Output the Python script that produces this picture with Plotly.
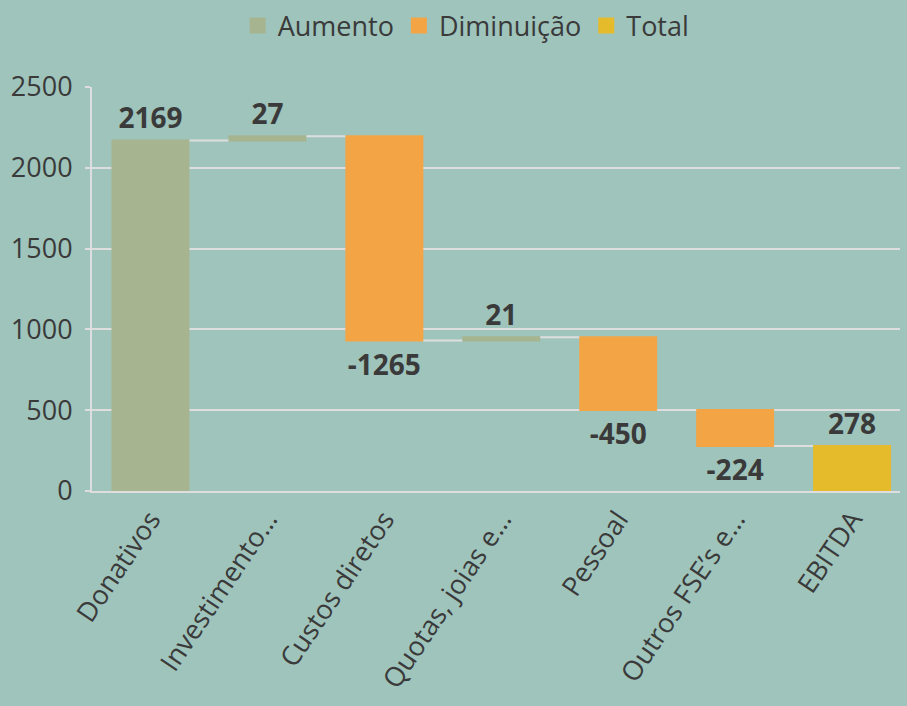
import plotly.graph_objects as go

categories = ["Donativos", "Investimento…", "Custos diretos", "Quotas, joias e…",
              "Pessoal", "Outros FSE’s e…", "EBITDA"]
values = [2169, 27, -1265, 21, -450, -224, 278]
measures = ["relative", "relative", "relative", "relative", "relative", "relative", "total"]
labels = ["2169", "27", "-1265", "21", "-450", "-224", "278"]
legend_names = ["Aumento", "Diminuição", "Total"]
y_ticks = [0, 500, 1000, 1500, 2000, 2500]

C_UP = "#a6b590"
C_DOWN = "#f3a545"
C_TOTAL = "#e6bb2b"
BG = "#9fc4bc"
TXT = "#3a3a3a"
GRID = "#dedede"
FONT = "Open Sans"

fig = go.Figure()
fig.add_trace(go.Waterfall(
    x=categories, y=values, measure=measures,
    text=labels, textposition="outside", cliponaxis=False,
    textfont=dict(family=FONT, size=28, color=TXT, weight="bold"),
    increasing=dict(marker=dict(color=C_UP)),
    decreasing=dict(marker=dict(color=C_DOWN)),
    totals=dict(marker=dict(color=C_TOTAL)),
    connector=dict(line=dict(color=GRID, width=2)),
    width=0.667,
    showlegend=False,
))
for name, col in zip(legend_names, [C_UP, C_DOWN, C_TOTAL]):
    fig.add_trace(go.Scatter(
        x=[None], y=[None], mode="markers", name=name,
        marker=dict(symbol="square", size=18, color=col),
    ))

fig.update_layout(
    width=907, height=706,
    paper_bgcolor=BG, plot_bgcolor=BG,
    margin=dict(l=92, r=7, t=87, b=215, autoexpand=False),
    font=dict(family=FONT, size=27, color=TXT),
    showlegend=True,
    legend=dict(orientation="h", x=0.514, xanchor="center", xref="container",
                y=1 - 26 / 706, yanchor="middle", yref="container",
                font=dict(size=27, color=TXT), itemsizing="trace",
                bgcolor="rgba(0,0,0,0)", tracegroupgap=0),
    xaxis=dict(range=[-0.5, 6.41], tickangle=-56, showgrid=False,
               showline=True, linecolor=GRID, linewidth=2,
               tickfont=dict(size=27, color=TXT)),
    yaxis=dict(range=[0, 2500], tickvals=y_ticks, showgrid=True, gridcolor=GRID, gridwidth=2,
               showline=True, linecolor=GRID, linewidth=2, ticks="outside", ticklen=5,
               tickcolor=GRID, tickwidth=2, zeroline=False, ticklabelstandoff=7,
               tickfont=dict(size=27, color=TXT)),
)

fig.write_html("out.html", config={"displayModeBar": False},
               post_script="document.body.style.margin='0';")
